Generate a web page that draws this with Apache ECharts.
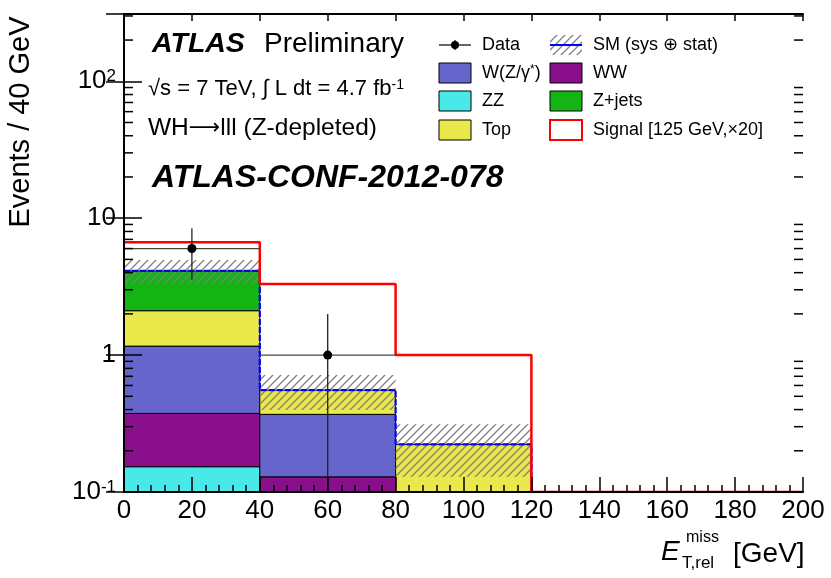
<!DOCTYPE html>
<html>
<head>
<meta charset="utf-8">
<script src="https://cdn.jsdelivr.net/npm/echarts@6/dist/echarts.min.js"></script>
<style>html,body{margin:0;padding:0;background:#fff}#c{width:831px;height:578px}</style>
</head>
<body>
<div id="c"></div>
<script>
// ---- data ----
const binEdges = [0, 40, 80, 120, 160, 200];
const zz     = [0.153, 0,     0,     0, 0];
const ww     = [0.222, 0.129, 0,     0, 0];
const wzg    = [0.788, 0.240, 0,     0, 0];
const topQ   = [0.947, 0.186, 0.223, 0, 0];
const zjets  = [2.01,  0,     0,     0, 0];
const bandHi = [4.94, 0.715, 0.312, 0, 0];
const bandLo = [3.34, 0.397, 0.129, 0, 0];
const signal = [6.68, 3.30, 1.0, 0, 0];
const dataVals = [6, 1, 0, 0, 0];
const dataErrUp = [2.45, 1.0, 0, 0, 0];
const dataErrDn = [2.45, 1.0, 0, 0, 0];
const xTicks = [0, 20, 40, 60, 80, 100, 120, 140, 160, 180, 200];
const yMin = 0.1, yMax = 310;

const FONT = '"Liberation Sans", Arial, Helvetica, sans-serif';
const components = [
  {name: 'ZZ', vals: zz, color: '#4ae9e9'},
  {name: 'WW', vals: ww, color: '#8a0f8a'},
  {name: 'W(Z/γ*)', vals: wzg, color: '#6565cc'},
  {name: 'Top', vals: topQ, color: '#ebe84b'},
  {name: 'Z+jets', vals: zjets, color: '#14b414'}
];

// build stacked rectangles
const stackRects = [];
const totals = [];
for (let i = 0; i < binEdges.length - 1; i++) {
  let cum = 0;
  components.forEach((c, ci) => {
    const v = c.vals[i];
    if (v > 0) stackRects.push([binEdges[i], binEdges[i + 1], cum, cum + v, ci]);
    cum += v;
  });
  totals.push(cum);
}
const bandRects = [];
for (let i = 0; i < bandHi.length; i++) {
  if (bandHi[i] > 0) bandRects.push([binEdges[i], binEdges[i + 1], bandLo[i], bandHi[i]]);
}
function stepLine(vals) {
  const pts = [];
  for (let i = 0; i < vals.length; i++) {
    const v = Math.max(vals[i], yMin);
    pts.push([binEdges[i], v]);
    pts.push([binEdges[i + 1], v]);
  }
  return pts;
}
const smLine = stepLine(totals);
const sigLine = stepLine(signal);
const dataPts = [];
for (let i = 0; i < dataVals.length; i++) {
  if (dataVals[i] > 0) dataPts.push([binEdges[i], binEdges[i + 1], dataVals[i], dataVals[i] - dataErrDn[i], dataVals[i] + dataErrUp[i]]);
}
// minor tick positions of the log axis (2..9 per decade)
const yMinor = [];
for (let d = -1; d <= 2; d++) for (let k = 2; k <= 9; k++) {
  const v = k * Math.pow(10, d);
  if (v < yMax) yMinor.push([0, v]);
}

function makeHatch() {
  const c = document.createElement('canvas');
  c.width = 8; c.height = 8;
  const g = c.getContext('2d');
  g.strokeStyle = '#808080'; g.lineWidth = 1.3;
  g.beginPath();
  g.moveTo(-1, 9); g.lineTo(9, -1);
  g.moveTo(-1, 1); g.lineTo(1, -1);
  g.moveTo(7, 9); g.lineTo(9, 7);
  g.stroke();
  return c;
}
const hatch = {image: makeHatch(), repeat: 'repeat'};

function clampY(v) { return Math.max(v, yMin); }

const chart = echarts.init(document.getElementById('c'), null, {renderer: 'canvas'});

const yLabelFmt = function (v) {
  const l = Math.round(Math.log10(v));
  if (Math.abs(v - Math.pow(10, l)) / v > 1e-6) return '';
  if (l === -1) return '{b|10}{s|-1}';
  if (l === 0) return '{b|1}';
  if (l === 1) return '{b|10}';
  if (l === 2) return '{b|10}{s|2}';
  return '';
};

const legendRows = [45, 73, 101, 130];
const col1 = 439, col2 = 550, bw = 32, bh = 20;
const legendGraphics = [];
function legText(x, y, t) {
  legendGraphics.push({type: 'text', x: x, y: y, style: {text: t, font: '18px ' + FONT, fill: '#000', textAlign: 'left', textVerticalAlign: 'middle'}, z: 100});
}
function legBox(x, y, fill, stroke, lw) {
  legendGraphics.push({type: 'rect', shape: {x: x, y: y - bh / 2, width: bw, height: bh}, style: {fill: fill, stroke: stroke, lineWidth: lw}, z: 100});
}
// Data
legendGraphics.push({type: 'line', shape: {x1: col1, y1: legendRows[0], x2: col1 + bw, y2: legendRows[0]}, style: {stroke: '#000', lineWidth: 1.2}, z: 100});
legendGraphics.push({type: 'line', shape: {x1: col1 + bw / 2, y1: legendRows[0] - 5, x2: col1 + bw / 2, y2: legendRows[0] + 5}, style: {stroke: '#000', lineWidth: 1.2}, z: 100});
legendGraphics.push({type: 'circle', shape: {cx: col1 + bw / 2, cy: legendRows[0], r: 4}, style: {fill: '#000'}, z: 100});
legText(482, legendRows[0], 'Data');
legBox(col1, legendRows[1], components[2].color, '#000', 1);
legendGraphics.push({type: 'text', x: 482, y: legendRows[1], style: {text: 'W(Z/γ{s|*})', rich: {s: {font: '12px ' + FONT, verticalAlign: 'top'}}, font: '18px ' + FONT, fill: '#000', textAlign: 'left', textVerticalAlign: 'middle'}, z: 100});
legBox(col1, legendRows[2], components[0].color, '#000', 1); legText(482, legendRows[2], 'ZZ');
legBox(col1, legendRows[3], components[3].color, '#000', 1); legText(482, legendRows[3], 'Top');
// column 2
legBox(col2, legendRows[0], hatch, null, 0);
legendGraphics.push({type: 'line', shape: {x1: col2, y1: legendRows[0], x2: col2 + bw, y2: legendRows[0]}, style: {stroke: '#0000ff', lineWidth: 2}, z: 101});
legText(593, legendRows[0], 'SM (sys ⊕ stat)');
legBox(col2, legendRows[1], components[1].color, '#000', 1); legText(593, legendRows[1], 'WW');
legBox(col2, legendRows[2], components[4].color, '#000', 1); legText(593, legendRows[2], 'Z+jets');
legBox(col2, legendRows[3], '#fff', '#ff0000', 2); legText(593, legendRows[3], 'Signal [125 GeV,×20]');

const textGraphics = [
  {type: 'text', x: 152, y: 44, style: {text: 'ATLAS', font: 'italic bold 28.5px ' + FONT, fill: '#000', textVerticalAlign: 'middle'}},
  {type: 'text', x: 264, y: 44, style: {text: 'Preliminary', font: '28px ' + FONT, fill: '#000', textVerticalAlign: 'middle'}},
  {type: 'text', x: 148, y: 89, style: {text: '√s = 7 TeV, ∫ L dt = 4.7 fb{s|-1}', rich: {s: {font: '14px ' + FONT, verticalAlign: 'top'}}, font: '22px ' + FONT, fill: '#000', textVerticalAlign: 'middle'}},
  {type: 'text', x: 148, y: 128, style: {text: 'WH{a|⟶}lll (Z-depleted)', rich: {a: {font: '22px "DejaVu Sans", sans-serif'}}, font: '24.5px ' + FONT, fill: '#000', textVerticalAlign: 'middle'}},
  {type: 'text', x: 152, y: 178, style: {text: 'ATLAS-CONF-2012-078', font: 'italic bold 32px ' + FONT, fill: '#000', textVerticalAlign: 'middle'}},
  // x-axis title
  {type: 'text', x: 661, y: 552, style: {text: 'E', font: 'italic 28px ' + FONT, fill: '#000', textVerticalAlign: 'middle'}},
  {type: 'text', x: 686, y: 538, style: {text: 'miss', font: '16px ' + FONT, fill: '#000', textVerticalAlign: 'middle'}},
  {type: 'text', x: 682, y: 563, style: {text: 'T,rel', font: '17px ' + FONT, fill: '#000', textVerticalAlign: 'middle'}},
  {type: 'text', x: 733, y: 554, style: {text: '[GeV]', font: '28px ' + FONT, fill: '#000', textVerticalAlign: 'middle'}},
  // y-axis title
  {type: 'text', x: 21, y: 122, rotation: Math.PI / 2, style: {text: 'Events / 40 GeV', font: '29px ' + FONT, fill: '#000', textAlign: 'center', textVerticalAlign: 'middle'}}
];

const axisLine = {show: true, lineStyle: {color: '#000', width: 2}};
const option = {
  animation: false,
  backgroundColor: '#fff',
  grid: {left: 124, right: 28, top: 14, bottom: 86, containLabel: false},
  xAxis: [
    {type: 'value', min: 0, max: 200, interval: 20, position: 'bottom', z: 10,
     axisLine: axisLine, splitLine: {show: false},
     axisTick: {inside: true, length: 15, lineStyle: {color: '#000', width: 1.5}},
     minorTick: {show: true, splitNumber: 5, length: 7, lineStyle: {color: '#000', width: 1.5}},
     axisLabel: {margin: 6, color: '#000', fontSize: 26, fontFamily: FONT,
       formatter: function (v) { return xTicks.indexOf(v) >= 0 ? String(v) : ''; }}},
    {type: 'value', min: 0, max: 200, interval: 20, position: 'top', z: 10,
     axisLine: axisLine, splitLine: {show: false},
     axisTick: {inside: true, length: 7, lineStyle: {color: '#000', width: 1.5}},
     axisLabel: {show: false}}
  ],
  yAxis: [
    {type: 'log', logBase: 10, min: yMin, max: yMax, position: 'left', z: 10,
     axisLine: axisLine, splitLine: {show: false},
     axisTick: {inside: true, length: 18, lineStyle: {color: '#000', width: 1.5}},
     axisLabel: {margin: 8, color: '#000', formatter: yLabelFmt, showMaxLabel: false,
       rich: {b: {fontSize: 26, fontFamily: FONT, color: '#000'}, s: {fontSize: 17, fontFamily: FONT, color: '#000', verticalAlign: 'top'}}}},
    {type: 'log', logBase: 10, min: yMin, max: yMax, position: 'right', z: 10,
     axisLine: axisLine, splitLine: {show: false},
     axisTick: {inside: true, length: 18, lineStyle: {color: '#000', width: 1.5}},
     axisLabel: {show: false}}
  ],
  series: [
    {type: 'custom', name: 'stack', coordinateSystem: 'cartesian2d', clip: true, z: 2,
     encode: {x: [0, 1], y: [2, 3]}, data: stackRects,
     renderItem: function (params, api) {
       const lo = clampY(api.value(2)), hi = api.value(3);
       if (hi <= yMin) return;
       const p0 = api.coord([api.value(0), hi]);
       const p1 = api.coord([api.value(1), lo]);
       return {type: 'rect', shape: {x: p0[0], y: p0[1], width: p1[0] - p0[0], height: p1[1] - p0[1]},
         style: {fill: components[api.value(4)].color, stroke: '#000', lineWidth: 1}};
     }},
    {type: 'custom', name: 'band', coordinateSystem: 'cartesian2d', clip: true, z: 3,
     encode: {x: [0, 1], y: [2, 3]}, data: bandRects,
     renderItem: function (params, api) {
       const lo = clampY(api.value(2)), hi = api.value(3);
       const p0 = api.coord([api.value(0), hi]);
       const p1 = api.coord([api.value(1), lo]);
       return {type: 'rect', shape: {x: p0[0], y: p0[1], width: p1[0] - p0[0], height: p1[1] - p0[1]},
         style: {fill: hatch, stroke: null}};
     }},
    {type: 'line', name: 'SM', data: smLine, symbol: 'none', z: 4, clip: true,
     lineStyle: {color: '#0000ff', width: 2.2, type: [6, 2]}},
    {type: 'line', name: 'Signal', data: sigLine, symbol: 'none', z: 5, clip: true,
     lineStyle: {color: '#ff0000', width: 2.5}},
    {type: 'custom', name: 'Data', coordinateSystem: 'cartesian2d', clip: true, z: 6,
     encode: {x: [0, 1], y: [2, 3, 4]}, data: dataPts,
     renderItem: function (params, api) {
       const x0 = api.value(0), x1 = api.value(1), v = api.value(2);
       const xm = (x0 + x1) / 2;
       const pa = api.coord([x0, v]), pb = api.coord([x1, v]);
       const pc = api.coord([xm, v]);
       const pl = api.coord([xm, clampY(api.value(3))]);
       const pu = api.coord([xm, api.value(4)]);
       return {type: 'group', children: [
         {type: 'line', shape: {x1: pa[0], y1: pa[1], x2: pb[0], y2: pb[1]}, style: {stroke: '#444', lineWidth: 1.2}},
         {type: 'line', shape: {x1: pc[0], y1: pu[1], x2: pc[0], y2: pl[1]}, style: {stroke: '#222', lineWidth: 1.3}},
         {type: 'circle', shape: {cx: pc[0], cy: pc[1], r: 4.5}, style: {fill: '#000'}}
       ]};
     }},
    {type: 'custom', name: 'yMinorTicks', coordinateSystem: 'cartesian2d', clip: false, z: 10,
     data: yMinor,
     renderItem: function (params, api) {
       const p = api.coord([0, api.value(1)]);
       const cs = params.coordSys;
       return {type: 'group', children: [
         {type: 'line', shape: {x1: cs.x, y1: p[1], x2: cs.x + 9, y2: p[1]}, style: {stroke: '#000', lineWidth: 1.5}},
         {type: 'line', shape: {x1: cs.x + cs.width - 9, y1: p[1], x2: cs.x + cs.width, y2: p[1]}, style: {stroke: '#000', lineWidth: 1.5}}
       ]};
     }}
  ],
  graphic: textGraphics.concat(legendGraphics)
};
chart.setOption(option);
</script>
</body>
</html>
